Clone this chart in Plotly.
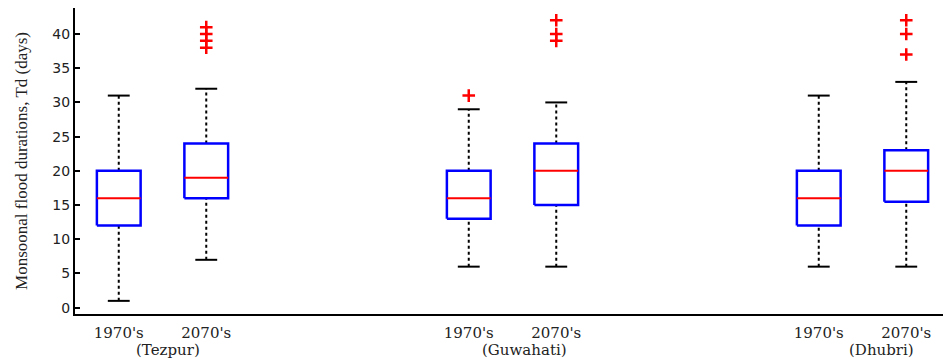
import plotly.graph_objects as go

# ---- data ----
stations = ["Tezpur", "Guwahati", "Dhubri"]
periods = ["1970's", "2070's"]
box_labels = ["1970's", "2070's", "1970's", "2070's", "1970's", "2070's"]
lower_whisker = [1, 7, 6, 6, 6, 6]
q1 = [12, 16, 13, 15, 12, 15.5]
median = [16, 19, 16, 20, 16, 20]
q3 = [20, 24, 20, 24, 20, 23]
upper_whisker = [31, 32, 29, 30, 31, 33]
outliers = [[], [38, 39, 40, 41], [31], [39, 40, 42], [], [37, 40, 42]]
y_ticks = [0, 5, 10, 15, 20, 25, 30, 35, 40]

# box positions: two per station, gap of two between stations
positions = []
for g in range(len(stations)):
    for p in range(len(periods)):
        positions.append(1 + 4 * g + p)

half = 0.25
cap = 0.125

bx, by, mx, my, wx, wy, cx, cy, ox, oy = [], [], [], [], [], [], [], [], [], []
for i, x in enumerate(positions):
    bx += [x - half, x + half, x + half, x - half, x - half, None]
    by += [q1[i], q1[i], q3[i], q3[i], q1[i], None]
    mx += [x - half, x + half, None]
    my += [median[i], median[i], None]
    wx += [x, x, None, x, x, None]
    wy += [lower_whisker[i], q1[i], None, q3[i], upper_whisker[i], None]
    cx += [x - cap, x + cap, None, x - cap, x + cap, None]
    cy += [lower_whisker[i], lower_whisker[i], None, upper_whisker[i], upper_whisker[i], None]
    for o in outliers[i]:
        ox.append(x)
        oy.append(o)

fig = go.Figure()
fig.add_trace(go.Scatter(x=wx, y=wy, mode="lines",
                         line=dict(color="black", width=2, dash="dot"), hoverinfo="skip"))
fig.add_trace(go.Scatter(x=cx, y=cy, mode="lines",
                         line=dict(color="black", width=2), hoverinfo="skip"))
fig.add_trace(go.Scatter(x=bx, y=by, mode="lines", fill="toself", fillcolor="white",
                         line=dict(color="#0000ff", width=2.5), hoverinfo="skip"))
fig.add_trace(go.Scatter(x=mx, y=my, mode="lines",
                         line=dict(color="#ff0000", width=2), hoverinfo="skip"))
fig.add_trace(go.Scatter(x=ox, y=oy, mode="markers",
                         marker=dict(symbol="cross-thin", size=9,
                                     line=dict(color="#ff0000", width=2.5)),
                         hoverinfo="skip"))

for g, name in enumerate(stations):
    center = (positions[2 * g] + positions[2 * g + 1]) / 2
    fig.add_annotation(x=center + 0.06 + 0.08 * g, y=-0.118, xref="x", yref="paper",
                       text="(" + name + ")", showarrow=False,
                       font=dict(family="DejaVu Serif", size=15, color="#222"),
                       xanchor="center", yanchor="middle")

# page has an 8px body margin; figure sized to fit the window
fig.update_layout(
    width=943, height=354,
    margin=dict(l=67, r=1, t=0, b=48),
    paper_bgcolor="white", plot_bgcolor="white",
    showlegend=False,
)
fig.update_xaxes(range=[0.5, 10.5], tickvals=positions, ticktext=box_labels,
                 showline=True, linecolor="black", linewidth=2, showgrid=False,
                 zeroline=False, ticks="outside", ticklen=4, tickcolor="rgba(0,0,0,0)",
                 tickfont=dict(family="DejaVu Serif", size=15, color="#222"))
fig.update_yaxes(range=[-0.92, 43.8], tickvals=y_ticks,
                 showline=True, linecolor="black", linewidth=2, showgrid=False,
                 zeroline=False, ticks="inside", ticklen=5, tickwidth=1.5, tickcolor="black",
                 tickfont=dict(family="DejaVu Sans", size=14, color="#222"),
                 title=dict(text="Monsoonal flood durations, Td (days)",
                            font=dict(family="Liberation Serif", size=17, color="#222"),
                            standoff=20))

fig.write_html("out.html")
